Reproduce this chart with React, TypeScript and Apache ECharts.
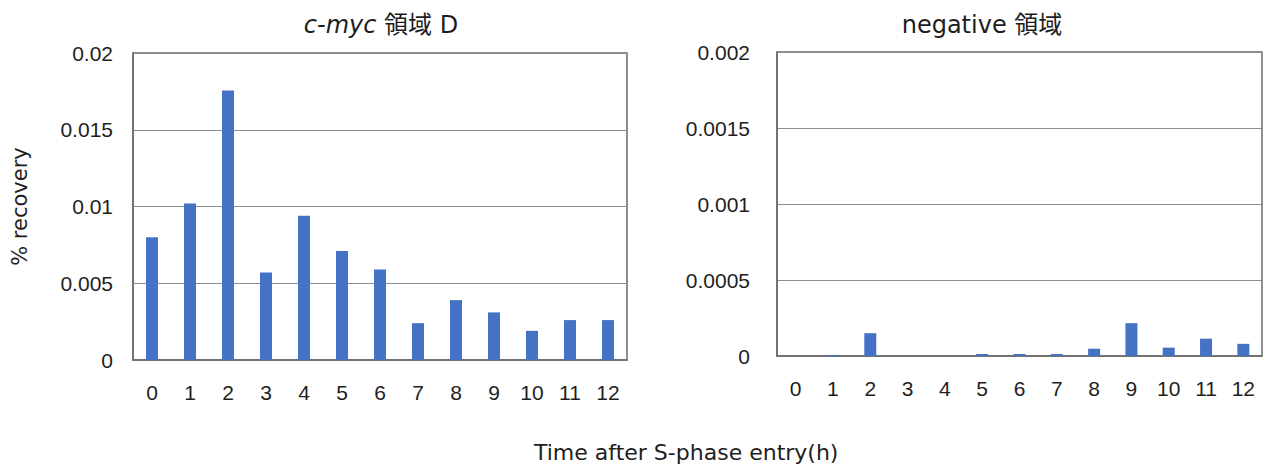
import React, { useEffect, useRef } from "react";
import * as echarts from "echarts";

const categories = ["0", "1", "2", "3", "4", "5", "6", "7", "8", "9", "10", "11", "12"];
const cmycValues = [0.008, 0.0102, 0.01755, 0.0057, 0.0094, 0.0071, 0.0059, 0.0024, 0.0039, 0.0031, 0.0019, 0.0026, 0.0026];
const negativeValues = [0, 0.000007, 0.00015, 0, 0, 0.000013, 0.000013, 0.000013, 0.000048, 0.000216, 0.000055, 0.000114, 0.00008];
const leftTitle = "c-myc";
const leftTitleRest = " 領域 D";
const rightTitle = "negative 領域";
const yName = "% recovery";
const xName = "Time after S-phase entry(h)";

const FONT = "'DejaVu Sans', 'Noto Sans CJK JP', sans-serif";
const TICKFONT = "'Liberation Sans', 'Noto Sans CJK JP', sans-serif";
const TXT = "#1e1e1e";
const BAR = "#4472C4";

export default function App() {
  const ref = useRef<HTMLDivElement>(null);
  useEffect(() => {
    if (!ref.current) return;
    const chart = echarts.init(ref.current, null, { renderer: "svg" });
    const fmt = (v: number) => String(+v.toFixed(5));
    const xAxisBase = {
      type: "category" as const,
      data: categories,
      axisTick: { show: false },
      axisLine: { show: true, lineStyle: { color: "#6a6a6a", width: 1.5 } },
      axisLabel: { interval: 0, color: TXT, fontSize: 21, margin: 22, fontFamily: TICKFONT },
    };
    const yAxisBase = {
      type: "value" as const,
      axisTick: { show: false },
      axisLine: { show: true, lineStyle: { color: "#6a6a6a", width: 1.5 } },
      splitLine: { show: true, lineStyle: { color: "#8c8c8c", width: 1 } },
      axisLabel: { color: TXT, fontSize: 21, fontFamily: TICKFONT, formatter: fmt },
    };
    chart.setOption({
      animation: false,
      backgroundColor: "#ffffff",
      title: [
        {
          text: "{i|" + leftTitle + "}{n|" + leftTitleRest + "}",
          left: 376,
          top: 8,
          textAlign: "center",
          textStyle: {
            fontWeight: "normal",
            rich: {
              i: { fontStyle: "italic", fontWeight: "normal", fontSize: 24, color: TXT, fontFamily: FONT },
              n: { fontWeight: "normal", fontSize: 24, color: TXT, fontFamily: FONT },
            },
          },
        },
        {
          text: rightTitle,
          left: 977,
          top: 8,
          textAlign: "center",
          textStyle: { fontSize: 24, fontWeight: "normal", color: TXT, fontFamily: FONT },
        },
      ],
      grid: [
        { left: 133, top: 53, width: 494, height: 307, show: true, borderColor: "#6a6a6a", borderWidth: 1.5 },
        { left: 777, top: 52, width: 485, height: 304, show: true, borderColor: "#6a6a6a", borderWidth: 1.5 },
      ],
      xAxis: [
        { ...xAxisBase, gridIndex: 0 },
        { ...xAxisBase, gridIndex: 1 },
      ],
      yAxis: [
        {
          ...yAxisBase,
          gridIndex: 0,
          min: 0,
          max: 0.02,
          interval: 0.005,
          axisLabel: { ...yAxisBase.axisLabel, margin: 20 },
          name: yName,
          nameLocation: "middle",
          nameGap: 103,
          nameRotate: 90,
          nameTextStyle: { color: TXT, fontSize: 21, fontFamily: FONT },
        },
        {
          ...yAxisBase,
          gridIndex: 1,
          min: 0,
          max: 0.002,
          interval: 0.0005,
          axisLabel: { ...yAxisBase.axisLabel, margin: 27 },
        },
      ],
      graphic: [
        {
          type: "text",
          left: 534,
          top: 441,
          style: { text: xName, fill: TXT, fontSize: 22, fontFamily: FONT },
        },
      ],
      series: [
        { type: "bar", xAxisIndex: 0, yAxisIndex: 0, data: cmycValues, barWidth: 12, itemStyle: { color: BAR } },
        { type: "bar", xAxisIndex: 1, yAxisIndex: 1, data: negativeValues, barWidth: 12, itemStyle: { color: BAR } },
      ],
    });
    return () => chart.dispose();
  }, []);
  return <div ref={ref} style={{ position: "absolute", left: 0, top: 0, width: 1264, height: 466 }} />;
}
